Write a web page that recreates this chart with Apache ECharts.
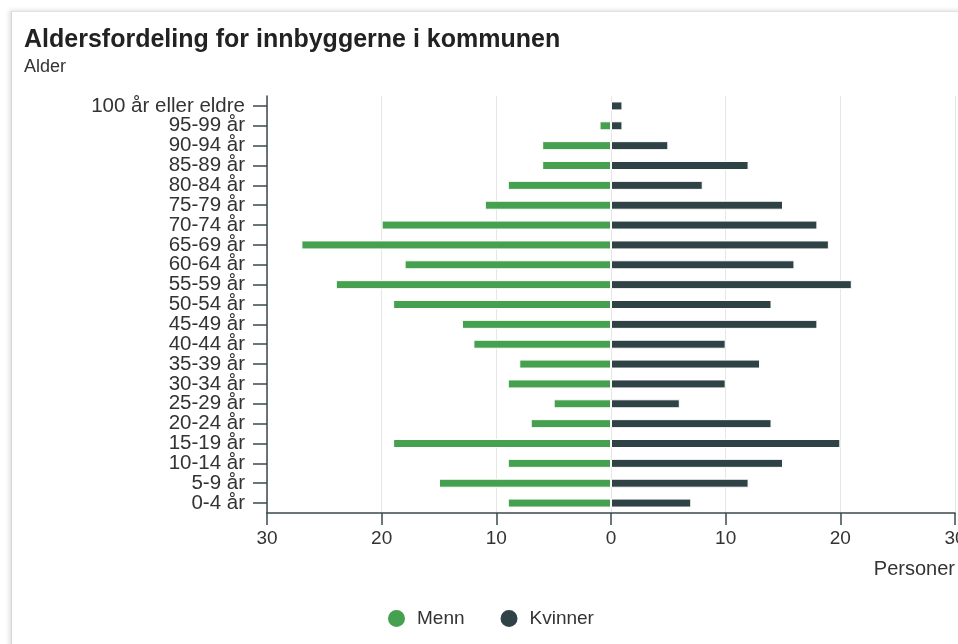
<!DOCTYPE html>
<html>
<head>
<meta charset="utf-8">
<script src="https://cdn.jsdelivr.net/npm/echarts@6/dist/echarts.min.js"></script>
<style>
  body { margin: 0; background: #fff; }
  .card {
    position: absolute; left: 11px; top: 11px; width: 1000px; height: 700px;
    border-left: 1px solid #d6d6d6; border-top: 1px solid #e2e2e2;
    box-shadow: -2px -1px 4px rgba(0, 0, 0, 0.12);
  }
  #chart { position: absolute; left: 0; top: 0; width: 958px; height: 644px; }
</style>
</head>
<body>
<div class="card"></div>
<div id="chart"></div>
<script>
// aldersgrupper, øverst til nederst
const ageGroups = ['100 år eller eldre', '95-99 år', '90-94 år', '85-89 år', '80-84 år', '75-79 år',
  '70-74 år', '65-69 år', '60-64 år', '55-59 år', '50-54 år', '45-49 år', '40-44 år', '35-39 år',
  '30-34 år', '25-29 år', '20-24 år', '15-19 år', '10-14 år', '5-9 år', '0-4 år']
const menn = [0, 1, 6, 6, 9, 11, 20, 27, 18, 24, 19, 13, 12, 8, 9, 5, 7, 19, 9, 15, 9]
const kvinner = [1, 1, 5, 12, 8, 15, 18, 19, 16, 21, 14, 18, 10, 13, 10, 6, 14, 20, 15, 12, 7]
const xTicks = [-30, -20, -10, 0, 10, 20, 30]

const font = 'Liberation Sans, Arial, sans-serif'
const chart = echarts.init(document.getElementById('chart'))

chart.setOption({
  animation: false,
  textStyle: { fontFamily: font },
  title: {
    text: 'Aldersfordeling for innbyggerne i kommunen',
    subtext: 'Alder',
    left: 19,
    top: 23,
    itemGap: 5,
    textStyle: { fontSize: 25, fontWeight: 'bold', color: '#222', fontFamily: font },
    subtextStyle: { fontSize: 18, color: '#333', fontFamily: font }
  },
  legend: {
    left: 381,
    top: 603,
    icon: 'circle',
    itemWidth: 19,
    itemHeight: 19,
    itemGap: 34,
    textStyle: { fontSize: 19, color: '#333', padding: [0, 0, 0, 6] },
    data: ['Menn', 'Kvinner']
  },
  grid: { left: 267, right: 3, top: 96, bottom: 131, outerBoundsMode: 'none' },
  xAxis: {
    type: 'value',
    min: xTicks[0],
    max: xTicks[xTicks.length - 1],
    interval: 10,
    name: 'Personer',
    nameLocation: 'end',
    nameGap: 0,
    nameTextStyle: { fontSize: 20, color: '#333', align: 'right', verticalAlign: 'top', padding: [46, 0, 0, 0] },
    axisLine: { show: true, lineStyle: { color: '#3b4a4c', width: 1.5 } },
    axisTick: { show: true, length: 12, lineStyle: { color: '#3b4a4c', width: 1.5 } },
    axisLabel: { fontSize: 19, color: '#333', margin: 16, formatter: v => Math.abs(v) },
    splitLine: { show: true, lineStyle: { color: '#e6e6e6' } }
  },
  yAxis: {
    type: 'category',
    inverse: true,
    data: ageGroups,
    axisLine: { onZero: false, lineStyle: { color: '#3b4a4c', width: 1.5 } },
    axisTick: { show: true, alignWithLabel: true, interval: 0, length: 14, lineStyle: { color: '#3b4a4c', width: 1.5 } },
    axisLabel: { interval: 0, fontSize: 20.5, color: '#333', margin: 22 }
  },
  series: [
    {
      name: 'Menn',
      type: 'bar',
      stack: 'alder',
      barWidth: 9,
      itemStyle: { color: '#45a04f', borderColor: '#fff', borderWidth: 1 },
      data: menn.map(v => -v)
    },
    {
      name: 'Kvinner',
      type: 'bar',
      stack: 'alder',
      barWidth: 9,
      itemStyle: { color: '#2f4347', borderColor: '#fff', borderWidth: 1 },
      data: kvinner
    }
  ]
})
</script>
</body>
</html>
